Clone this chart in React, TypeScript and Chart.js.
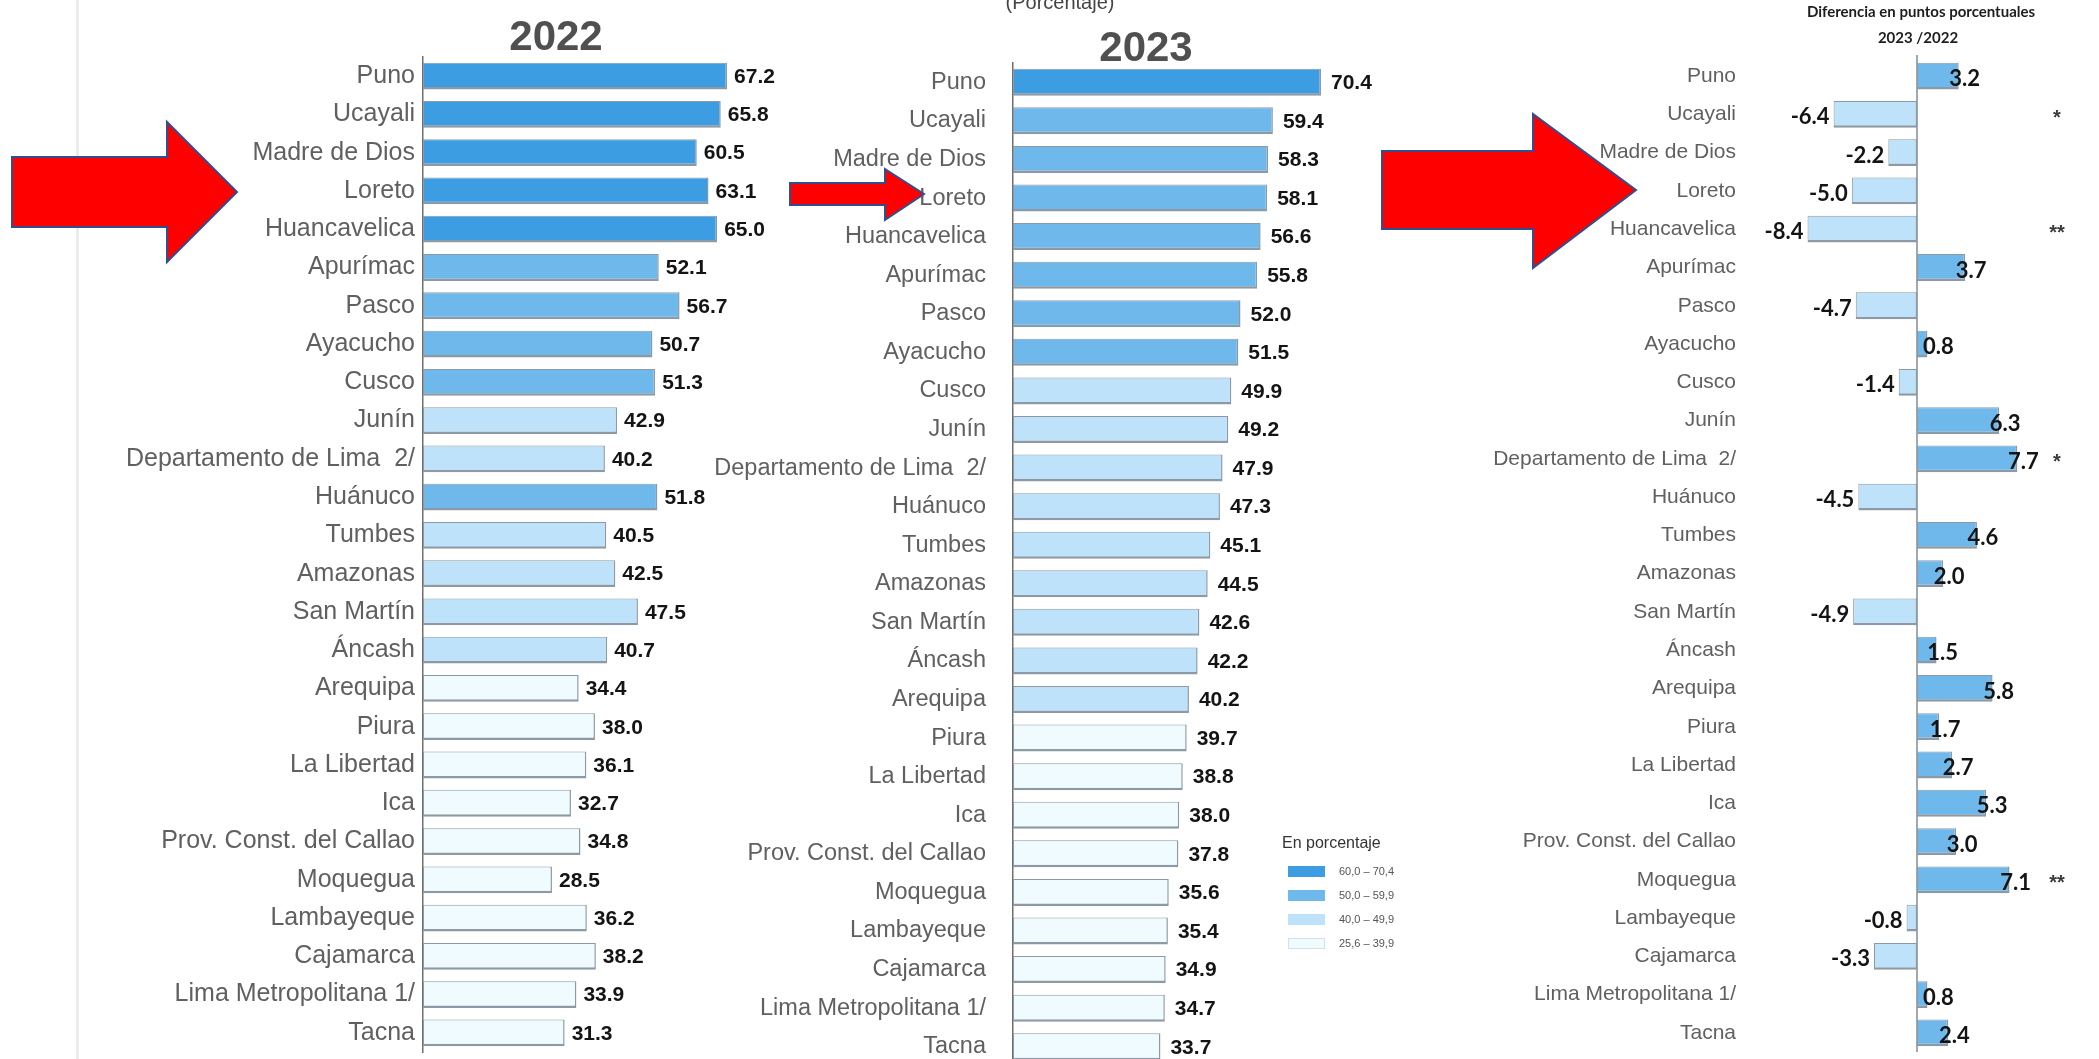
import React, { useEffect, useRef } from "react";
import { Chart, registerables } from "chart.js";
Chart.register(...registerables);

const regions = [
  "Puno", "Ucayali", "Madre de Dios", "Loreto", "Huancavelica", "Apurímac", "Pasco",
  "Ayacucho", "Cusco", "Junín", "Departamento de Lima  2/", "Huánuco", "Tumbes", "Amazonas",
  "San Martín", "Áncash", "Arequipa", "Piura", "La Libertad", "Ica", "Prov. Const. del Callao",
  "Moquegua", "Lambayeque", "Cajamarca", "Lima Metropolitana 1/", "Tacna",
];
const values2022 = [67.2, 65.8, 60.5, 63.1, 65.0, 52.1, 56.7, 50.7, 51.3, 42.9, 40.2, 51.8, 40.5, 42.5, 47.5, 40.7, 34.4, 38.0, 36.1, 32.7, 34.8, 28.5, 36.2, 38.2, 33.9, 31.3];
const values2023 = [70.4, 59.4, 58.3, 58.1, 56.6, 55.8, 52.0, 51.5, 49.9, 49.2, 47.9, 47.3, 45.1, 44.5, 42.6, 42.2, 40.2, 39.7, 38.8, 38.0, 37.8, 35.6, 35.4, 34.9, 34.7, 33.7];
const diffs = [3.2, -6.4, -2.2, -5.0, -8.4, 3.7, -4.7, 0.8, -1.4, 6.3, 7.7, -4.5, 4.6, 2.0, -4.9, 1.5, 5.8, 1.7, 2.7, 5.3, 3.0, 7.1, -0.8, -3.3, 0.8, 2.4];
const significance = ["", "*", "", "", "**", "", "", "", "", "", "*", "", "", "", "", "", "", "", "", "", "", "**", "", "", "", ""];
const legendTitle = "En porcentaje";
const legendLabels = ["60,0 – 70,4", "50,0 – 59,9", "40,0 – 49,9", "25,6 – 39,9"];
const title2022 = "2022";
const title2023 = "2023";
const subtitle = "(Porcentaje)";
const diffTitle1 = "Diferencia en puntos porcentuales";
const diffTitle2 = "2023 /2022";

const C_DARK = "#3d9de3";
const C_MID = "#6fb8ec";
const C_LIGHT = "#bde2f9";
const C_PALE = "#effbff";
const BORDER = "#8d9aa5";
const LABEL_GRAY = "#606060";
const SANS = "'Liberation Sans', Arial, sans-serif";

const legendColors = [C_DARK, C_MID, C_LIGHT, C_PALE];

function colorFor(v: number) {
  if (v >= 60) return C_DARK;
  if (v >= 50) return C_MID;
  if (v >= 40) return C_LIGHT;
  return C_PALE;
}

function valueLabelPlugin(gap: number, font: string) {
  return {
    id: "valueLabels",
    afterDatasetsDraw(chart: any) {
      const ctx = chart.ctx;
      const meta = chart.getDatasetMeta(0);
      const data = chart.data.datasets[0].data as number[];
      ctx.save();
      ctx.font = font;
      ctx.fillStyle = "#141414";
      ctx.textBaseline = "middle";
      ctx.textAlign = "left";
      meta.data.forEach((bar: any, i: number) => {
        ctx.fillText(data[i].toFixed(1), bar.x + gap, bar.y + 1);
      });
      ctx.restore();
    },
  };
}

const diffPlugin = {
  id: "diffPlugin",
  beforeDatasetsDraw(chart: any) {
    const ctx = chart.ctx;
    const x0 = chart.scales.x.getPixelForValue(0);
    const { top, bottom } = chart.chartArea;
    ctx.save();
    ctx.strokeStyle = "#7f8d99";
    ctx.lineWidth = 1.5;
    ctx.beginPath();
    ctx.moveTo(x0, top - 2);
    ctx.lineTo(x0, bottom);
    ctx.stroke();
    ctx.restore();
  },
  afterDatasetsDraw(chart: any) {
    const ctx = chart.ctx;
    const xs = chart.scales.x;
    const x0 = xs.getPixelForValue(0);
    const meta = chart.getDatasetMeta(0);
    ctx.save();
    ctx.textBaseline = "middle";
    meta.data.forEach((bar: any, i: number) => {
      const v = diffs[i];
      const txt = v.toFixed(1);
      ctx.font = "bold 22px Lato, 'Open Sans', sans-serif";
      ctx.fillStyle = "#141414";
      const w = ctx.measureText(txt).width;
      if (v >= 0) {
        ctx.textAlign = "center";
        const cx = Math.max(bar.x + 6, x0 + w / 2 + 6);
        ctx.fillText(txt, cx, bar.y + 3);
      } else {
        ctx.textAlign = "right";
        ctx.fillText(txt, bar.x - 4, bar.y + 3);
      }
      const s = significance[i];
      if (s) {
        ctx.font = "bold 20px " + SANS;
        ctx.fillStyle = "#3a3a3a";
        ctx.textAlign = "center";
        ctx.fillText(s, xs.right - 32, bar.y + 4);
      }
    });
    ctx.restore();
  },
};

function barConfig(opts: {
  data: number[];
  colors: string[];
  yWidth: number;
  padTop: number;
  padBottom: number;
  padRight: number;
  tickPad: number;
  tickSize: number;
  min: number;
  max: number;
  showBorder: boolean;
  plugins: any[];
}): any {
  return {
    type: "bar",
    data: {
      labels: regions,
      datasets: [
        {
          data: opts.data,
          backgroundColor: opts.colors,
          borderColor: BORDER,
          borderWidth: { top: 1, right: 1.5, bottom: 2.5, left: 1 },
          borderSkipped: false,
          barPercentage: 0.7,
          categoryPercentage: 1,
        },
      ],
    },
    options: {
      indexAxis: "y",
      responsive: false,
      animation: false,
      devicePixelRatio: 1,
      layout: { padding: { top: opts.padTop, bottom: opts.padBottom, right: opts.padRight, left: 0 } },
      plugins: { legend: { display: false }, tooltip: { enabled: false }, title: { display: false } },
      scales: {
        x: { display: false, min: opts.min, max: opts.max },
        y: {
          afterFit: (scale: any) => {
            scale.width = opts.yWidth;
            scale.paddingTop = 0;
            scale.paddingBottom = 0;
          },
          grid: { display: false, drawTicks: false, tickLength: 0 },
          border: { display: opts.showBorder, color: "#6f6f6f", width: 1.5 },
          ticks: {
            autoSkip: false,
            padding: opts.tickPad,
            color: LABEL_GRAY,
            font: { family: SANS, size: opts.tickSize },
          },
        },
      },
    },
    plugins: opts.plugins,
  };
}

function Arrow({ points }: { points: string }) {
  return <polygon points={points} fill="#ff0000" stroke="#2f4f8f" strokeWidth={2} strokeLinejoin="miter" />;
}

export default function App() {
  const r1 = useRef<HTMLCanvasElement>(null);
  const r2 = useRef<HTMLCanvasElement>(null);
  const r3 = useRef<HTMLCanvasElement>(null);

  useEffect(() => {
    document.body.style.margin = "0";
    const c1 = new Chart(
      r1.current!,
      barConfig({
        data: values2022,
        colors: values2022.map(colorFor),
        yWidth: 363,
        padTop: 57,
        padBottom: 7,
        padRight: 35,
        tickPad: 8,
        tickSize: 25,
        min: 0,
        max: 80,
        showBorder: true,
        plugins: [valueLabelPlugin(7, "bold 21px " + SANS)],
      })
    );
    const c2 = new Chart(
      r2.current!,
      barConfig({
        data: values2023,
        colors: values2023.map(colorFor),
        yWidth: 353,
        padTop: 63,
        padBottom: 4,
        padRight: 57,
        tickPad: 27,
        tickSize: 23.5,
        min: 0,
        max: 80,
        showBorder: true,
        plugins: [valueLabelPlugin(10, "bold 21px " + SANS)],
      })
    );
    const c3 = new Chart(
      r3.current!,
      barConfig({
        data: diffs,
        colors: diffs.map((d) => (d >= 0 ? C_MID : C_LIGHT)),
        yWidth: 305,
        padTop: 57,
        padBottom: 7,
        padRight: 10,
        tickPad: 9,
        tickSize: 21,
        min: -13.2,
        max: 13.2,
        showBorder: false,
        plugins: [diffPlugin],
      })
    );
    return () => {
      c1.destroy();
      c2.destroy();
      c3.destroy();
    };
  }, []);

  const abs = (l: number, t: number, extra: any = {}) => ({ position: "absolute" as const, left: l, top: t, ...extra });

  return (
    <div style={{ position: "relative", width: 2099, height: 1059, overflow: "hidden", background: "#fff", fontFamily: SANS }}>
      <div style={abs(76, 0, { width: 3, height: 1059, background: "#ececec" })} />
      <canvas ref={r1} width={760} height={1059} style={abs(60, 0, { width: 760, height: 1059 })} />
      <canvas ref={r2} width={760} height={1070} style={abs(660, 0, { width: 760, height: 1070 })} />
      <canvas ref={r3} width={659} height={1059} style={abs(1440, 0, { width: 659, height: 1059 })} />

      <div style={abs(456, 12, { width: 200, textAlign: "center", fontSize: 42, fontWeight: "bold", color: "#505050", lineHeight: "48px" })}>{title2022}</div>
      <div style={abs(1046, 23, { width: 200, textAlign: "center", fontSize: 42, fontWeight: "bold", color: "#505050", lineHeight: "48px" })}>{title2023}</div>
      <div style={abs(960, -10, { width: 200, textAlign: "center", fontSize: 20, color: "#444", lineHeight: "24px" })}>{subtitle}</div>
      <div style={abs(1721, 2, { width: 400, textAlign: "center", fontSize: 15, fontWeight: "bold", color: "#1e1e1e", fontFamily: "Lato, 'Open Sans', sans-serif", lineHeight: "18px" })}>{diffTitle1}</div>
      <div style={abs(1718, 28, { width: 400, textAlign: "center", fontSize: 15, fontWeight: "bold", color: "#1e1e1e", fontFamily: "Lato, 'Open Sans', sans-serif", lineHeight: "18px" })}>{diffTitle2}</div>

      <div style={abs(1282, 834, { fontSize: 16, color: "#333", lineHeight: "18px", whiteSpace: "nowrap" })}>{legendTitle}</div>
      {legendLabels.map((lab, i) => (
        <React.Fragment key={lab}>
          <div style={abs(1288, 866 + i * 24, { width: 37, height: 11, background: legendColors[i], border: i === 3 ? "1px solid #cfe3ee" : "none", boxSizing: "border-box" })} />
          <div style={abs(1339, 864 + i * 24, { fontSize: 11, color: "#555", lineHeight: "14px", whiteSpace: "nowrap" })}>{lab}</div>
        </React.Fragment>
      ))}

      <svg width={2099} height={1059} style={abs(0, 0, { pointerEvents: "none" })}>
        <Arrow points="12,157 167,157 167,122 237,192 167,262 167,227 12,227" />
        <Arrow points="790,183 885,183 885,169 924,194 885,220 885,205 790,205" />
        <Arrow points="1382,151 1533,151 1533,114 1636,190 1533,268 1533,229 1382,229" />
      </svg>
    </div>
  );
}
